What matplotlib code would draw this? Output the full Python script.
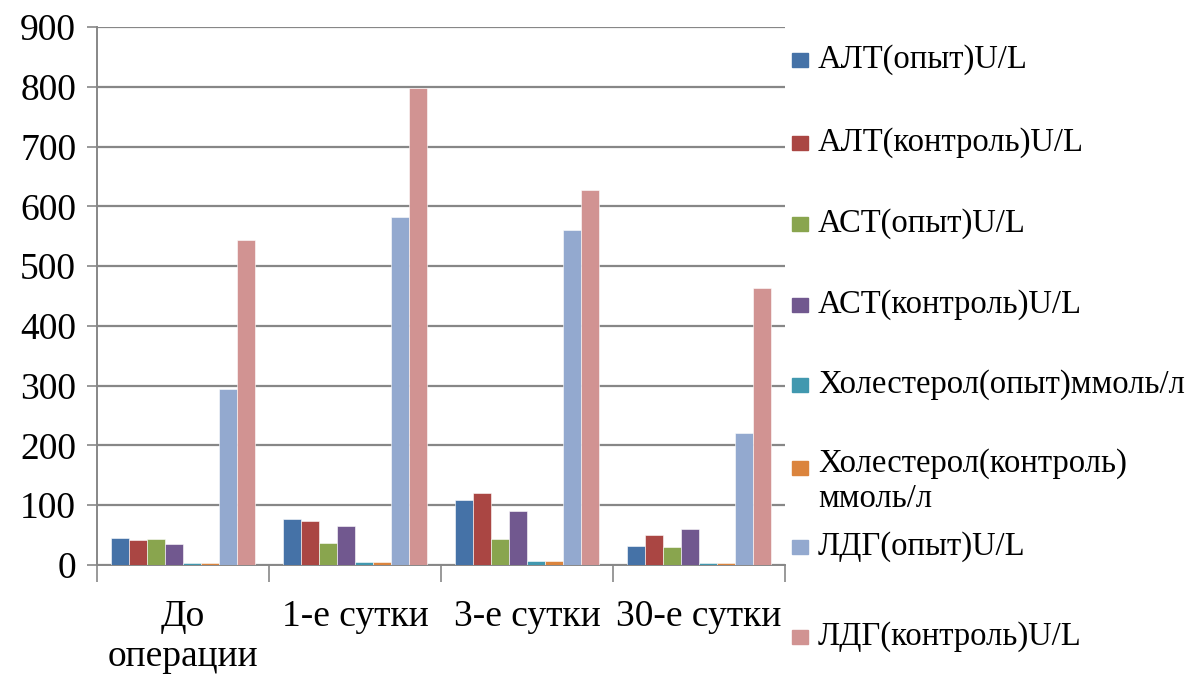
import matplotlib.pyplot as plt
import matplotlib.patches as patches
import numpy as np

# Stages and series values
stages = ['До\nоперации', '1-е сутки', '3-е сутки', '30-е сутки']
series_names = ['АЛТ(опыт)U/L', 'АЛТ(контроль)U/L', 'АСТ(опыт)U/L',
                'АСТ(контроль)U/L', 'Холестерол(опыт)ммоль/л',
                'Холестерол(контроль)\nммоль/л', 'ЛДГ(опыт)U/L',
                'ЛДГ(контроль)U/L']
alt_exp = [45, 77, 109, 32]
alt_ctrl = [41, 73, 120, 50]
ast_exp = [43, 37, 43, 30]
ast_ctrl = [35, 65, 90, 60]
chol_exp = [3, 5, 7, 3]
chol_ctrl = [3, 5, 7, 3]
ldh_exp = [294, 583, 561, 220]
ldh_ctrl = [543, 799, 628, 464]
values = [alt_exp, alt_ctrl, ast_exp, ast_ctrl, chol_exp, chol_ctrl, ldh_exp, ldh_ctrl]
y_ticks = [0, 100, 200, 300, 400, 500, 600, 700, 800, 900]

colors = ['#4572A7', '#AA4643', '#89A54E', '#71588F',
          '#4198AF', '#DB843D', '#93A9CF', '#D19392']

FONT = 'Liberation Serif'
plt.rcParams['font.family'] = FONT

fig = plt.figure(figsize=(11.89, 6.79), dpi=100)
ax = fig.add_axes([0.0816, 0.168, 0.5786, 0.792])

n = len(values)
bw = 0.105
x = np.arange(len(stages))
for i, (vals, c) in enumerate(zip(values, colors)):
    ax.bar(x + (i - (n - 1) / 2) * bw, vals, width=bw, color=c,
           edgecolor='white', linewidth=0.4, zorder=3)

ax.set_xlim(-0.5, len(stages) - 0.5)
ax.set_ylim(0, 900)
ax.set_yticks(y_ticks)
ax.set_yticklabels([str(v) for v in y_ticks], family=FONT, fontsize=27)
ax.yaxis.grid(True, color='#878787', linewidth=1.6, zorder=0)
ax.tick_params(axis='y', length=7, width=1.2, color='#878787', pad=8)

# category boundary ticks on the x axis
ax.set_xticks(np.arange(len(stages) + 1) - 0.5)
ax.set_xticklabels([])
ax.tick_params(axis='x', length=12, width=1.2, color='#878787')
ax.set_xticks(x, minor=True)
ax.set_xticklabels(stages, minor=True, family=FONT, fontsize=27, linespacing=1.2)
ax.tick_params(axis='x', which='minor', length=0, pad=25)

for s in ['top', 'right']:
    ax.spines[s].set_visible(False)
for s in ['left', 'bottom']:
    ax.spines[s].set_color('#878787')
    ax.spines[s].set_linewidth(1.4)

# legend drawn to the right of the plot
legend_y = [60, 143, 224, 305, 385, 468, 547, 637]
W, H = 1189, 679
for name, c, yy in zip(series_names, colors, legend_y):
    fig.add_artist(patches.Rectangle((792 / W, 1 - (yy + 7) / H), 16 / W, 14 / H,
                                     transform=fig.transFigure, color=c))
    if '\n' in name:
        fig.text(818 / W, 1 - (yy - 20) / H, name, family=FONT, fontsize=23.5,
                 va='top', ha='left', linespacing=1.2)
    else:
        fig.text(818 / W, 1 - yy / H, name, family=FONT, fontsize=23.5,
                 va='center', ha='left')

fig.savefig('out.png', dpi=100)
